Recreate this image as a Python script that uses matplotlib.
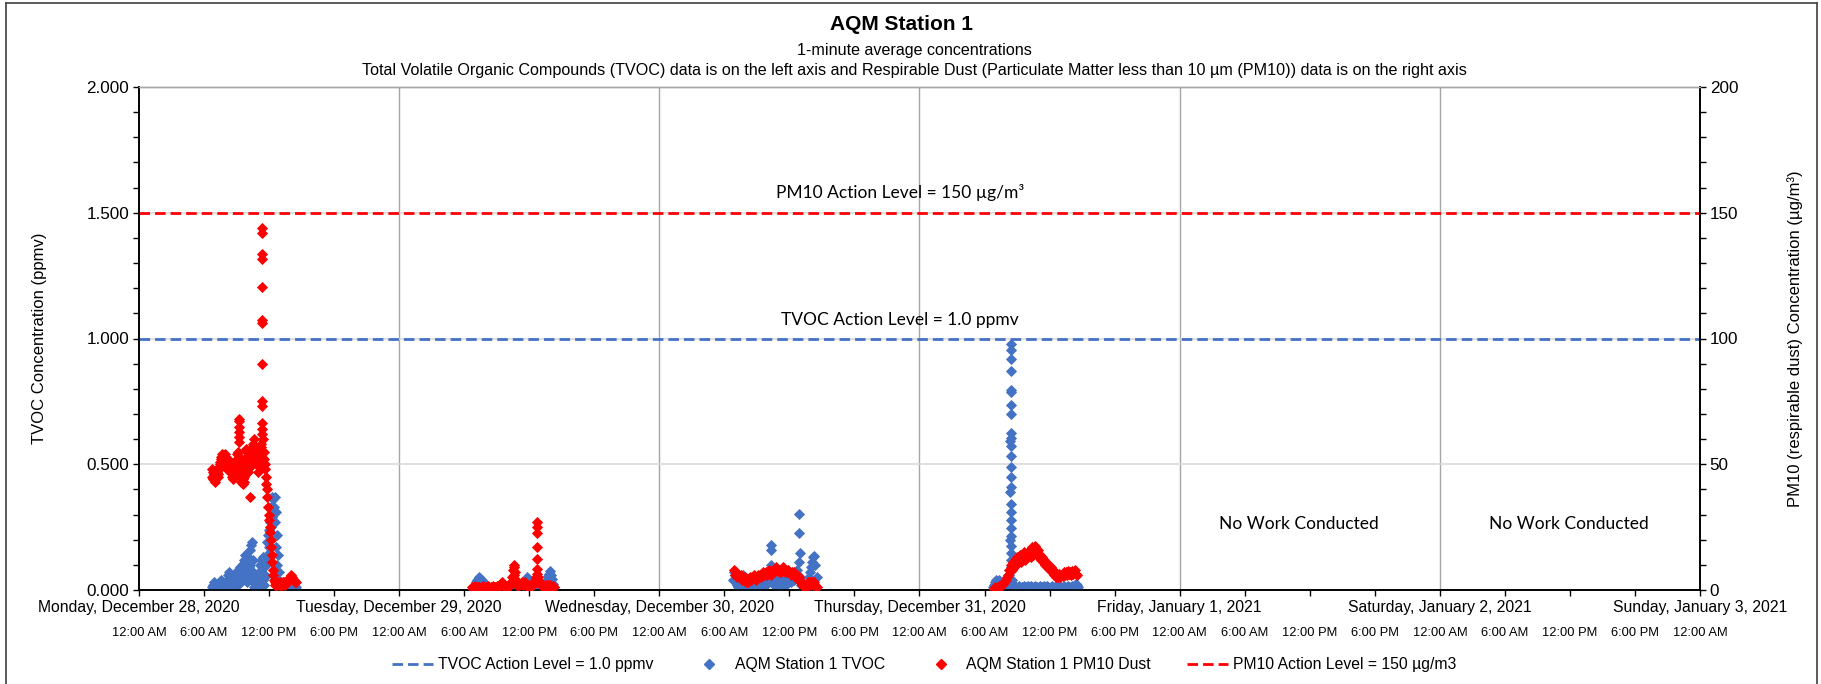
import numpy as np
import matplotlib.pyplot as plt
from matplotlib.lines import Line2D
from matplotlib.ticker import MultipleLocator

plt.rcParams['font.family'] = ['Liberation Sans', 'DejaVu Sans']

W, H = 1821, 684

# hours since Monday Dec 28 2020 00:00, readings every 6 minutes (0.1 h)
STEP = 0.1

# ---- TVOC (ppmv), left axis ----
tvoc_mon_start = 6.7
tvoc_mon = [0.01, 0.02, 0.03, 0.02, 0.00, 0.01, 0.00, 0.02, 0.03, 0.04, 0.03, 0.01, 0.00, 0.02,
            0.04, 0.06, 0.07, 0.05, 0.02, 0.00, 0.03, 0.05, 0.04, 0.07, 0.08, 0.05, 0.09, 0.06,
            0.10, 0.08, 0.12, 0.14, 0.10, 0.07, 0.13, 0.16, 0.18, 0.19, 0.12, 0.06, 0.03, 0.01,
            0.02, 0.04, 0.07, 0.10, 0.12, 0.13, 0.09, 0.05, 0.12, 0.19, 0.22, 0.24, 0.27, 0.33,
            0.37, 0.36, 0.37, 0.31, 0.22, 0.14, 0.07, 0.02, 0.01, 0.00, 0.01, 0.00, 0.00, 0.01,
            0.00, 0.01, 0.01, 0.00, 0.01, 0.02, 0.01, 0.00, 0.01]
# lower readings in between, offset by 3 minutes
tvoc_mon_low_start = 6.75
tvoc_mon_low = [0.00, 0.01, 0.01, 0.00, 0.00, 0.00, 0.01, 0.01, 0.02, 0.02, 0.00, 0.00, 0.01, 0.02,
                0.03, 0.04, 0.03, 0.01, 0.00, 0.01, 0.02, 0.02, 0.03, 0.04, 0.02, 0.04, 0.03, 0.05,
                0.04, 0.06, 0.07, 0.05, 0.03, 0.06, 0.09, 0.10, 0.08, 0.05, 0.03, 0.01, 0.00, 0.01,
                0.02, 0.03, 0.05, 0.07, 0.06, 0.04, 0.02, 0.06, 0.10, 0.14, 0.17, 0.20, 0.25, 0.29,
                0.32, 0.33, 0.27, 0.17, 0.10, 0.04, 0.01, 0.00]
tvoc_tue_start = 30.8
tvoc_tue = [0.00, 0.01, 0.02, 0.03, 0.04, 0.045, 0.05, 0.045, 0.04, 0.03, 0.02, 0.01, 0.00, 0.005,
            0.00, 0.00, 0.005, 0.00, 0.00, 0.005, 0.00, 0.00, 0.005, 0.00, 0.00, 0.005, 0.01, 0.015,
            0.02, 0.01, 0.00, 0.00, 0.005, 0.00, 0.00, 0.005, 0.00, 0.00, 0.005, 0.00, 0.00, 0.005,
            0.00, 0.005, 0.01, 0.015, 0.02, 0.03, 0.035, 0.04, 0.05, 0.045, 0.035, 0.025, 0.015, 0.01,
            0.005, 0.01, 0.02, 0.01, 0.005, 0.00, 0.005, 0.00, 0.005, 0.01, 0.015, 0.02, 0.04, 0.055,
            0.065, 0.075, 0.06, 0.045, 0.025, 0.01]
tvoc_wed_start = 54.8
tvoc_wed = [0.04, 0.07, 0.06, 0.04, 0.02, 0.01, 0.00, 0.03, 0.05, 0.06, 0.04, 0.02, 0.01, 0.00,
            0.02, 0.01, 0.00, 0.01, 0.02, 0.01, 0.00, 0.01, 0.02, 0.03, 0.02, 0.01, 0.02, 0.03,
            0.04, 0.03, 0.02, 0.03, 0.04, 0.05, 0.07, 0.10, 0.06, 0.04, 0.02, 0.03, 0.04, 0.02,
            0.01, 0.03, 0.04, 0.02, 0.03, 0.05, 0.04, 0.02, 0.03, 0.05, 0.04, 0.03, 0.05, 0.06,
            0.04, 0.05, 0.06, 0.08, 0.06, 0.11, 0.05, 0.02, 0.00, 0.01, 0.00, 0.01, 0.02, 0.03,
            0.05, 0.07, 0.09, 0.11, 0.13, 0.135, 0.10, 0.05]
tvoc_thu_start = 78.8
tvoc_thu = [0.01, 0.02, 0.03, 0.04, 0.03, 0.04, 0.02, 0.01, 0.00, 0.00, 0.01, 0.00, 0.01, 0.02,
            0.04, 0.06, 0.09, 0.04, 0.01, 0.005, 0.015, 0.01, 0.005, 0.01, 0.015, 0.01, 0.005, 0.01,
            0.015, 0.005, 0.01, 0.01, 0.015, 0.005, 0.01, 0.015, 0.01, 0.005, 0.01, 0.015, 0.01, 0.005,
            0.01, 0.015, 0.005, 0.01, 0.01, 0.015, 0.005, 0.01, 0.015, 0.01, 0.005, 0.01, 0.015, 0.01,
            0.005, 0.01, 0.015, 0.005, 0.01, 0.01, 0.015, 0.005, 0.01, 0.015, 0.01, 0.005, 0.01, 0.015,
            0.01, 0.005, 0.01, 0.015, 0.01, 0.02, 0.025, 0.02, 0.01]
# short bursts (several 1-minute readings stacked at nearly the same time)
tvoc_burst_t = [58.30, 58.32, 60.92, 60.93, 60.95,
                80.42, 80.42, 80.43, 80.42, 80.41, 80.43, 80.42, 80.42, 80.40, 80.41, 80.32, 80.43,
                80.44, 80.43, 80.44, 80.43, 80.32, 80.44, 80.43, 80.44, 80.43, 80.33, 80.44, 80.45,
                80.44, 80.45]
tvoc_burst_v = [0.179, 0.159, 0.302, 0.228, 0.146,
                0.979, 0.955, 0.919, 0.869, 0.794, 0.787, 0.734, 0.701, 0.624, 0.605, 0.591, 0.571,
                0.532, 0.490, 0.450, 0.410, 0.390, 0.341, 0.311, 0.278, 0.245, 0.200, 0.214, 0.175,
                0.148, 0.119]

# ---- PM10 (ug/m3), right axis ----
pm_mon_start = 6.7
pm_mon = [48, 44, 46, 43, 45, 47, 46, 49, 51, 53, 54, 52, 54, 51, 50, 52, 49, 51, 48, 46, 47,
          45, 49, 52, 55, 53, 50, 47, 45, 42, 43, 48, 53, 55, 51, 49, 50, 56, 58, 60, 57, 55,
          56, 52, 49, 55, 58, 60, 55]
pm_mon_mid_start = 6.75
pm_mon_mid = [45, 47, 44, 46, 48, 45, 48, 50, 52, 51, 50, 53, 49, 52, 48, 50, 47, 49, 45, 44,
              46, 48, 50, 54, 51, 48, 46, 43, 44, 45, 51, 56, 52, 47, 50, 53, 55, 57, 54, 52,
              54, 50, 47, 52, 56, 57, 53, 50]
pm_mon_drop_start = 11.55   # 3-minute readings while the dust fell off
pm_mon_drop = [52, 50, 48, 45, 42, 40, 37, 33, 30, 28, 25, 23, 20, 17, 14, 11, 8, 6, 4, 3, 2]
pm_mon_tail_start = 12.6
pm_mon_tail = [2, 2, 3, 2, 2, 3, 2, 3, 3, 2, 3, 4, 4, 5, 6, 5, 4, 4, 3, 3]
pm_tue_start = 30.7
pm_tue = [1.0, 0.5, 1.0, 1.5, 1.0, 0.5, 1.0, 1.0, 0.5, 1.0, 1.5, 1.0, 0.5, 1.0, 1.0, 1.5, 1.0,
          0.5, 1.0, 1.0, 1.5, 1.0, 1.0, 1.5, 1.0, 1.5, 2.0, 2.5, 3.0, 2.5, 1.5, 1.0, 1.5, 1.0,
          1.5, 2.0, 3.0, 5.0, 8.0, 10.0, 7.0, 4.0, 2.0, 1.5, 2.0, 2.5, 3.0, 2.0, 2.5, 3.0, 2.0,
          1.5, 1.0, 1.5, 1.0, 1.5, 2.0, 3.0, 4.0, 5.0, 6.5, 5.0, 3.5, 2.5, 2.0, 1.5, 2.0, 1.5,
          2.0, 1.5, 2.0, 1.5, 2.0, 1.5, 1.0, 1.5, 1.0]
pm_wed_start = 54.9
pm_wed = [8, 6, 7, 5, 6, 5, 6, 4, 5, 4, 5, 3, 4, 3, 4, 5, 4, 5, 6, 5, 4, 5, 6, 5, 6, 5, 6,
          7, 6, 7, 6, 7, 8, 7, 6, 7, 8, 7, 8, 9, 8, 7, 8, 7, 8, 9, 8, 7, 8, 7, 8, 7, 6, 7,
          6, 7, 6, 5, 6, 4, 5, 4, 3, 2, 1, 2, 1, 2, 3, 2, 3, 2, 3, 2, 3, 2, 1]
pm_thu_start = 78.9
pm_thu = [0.5, 1.0, 0.5, 1.0, 1.5, 1.0, 2.0, 2.0, 2.5, 3.0, 3.5, 4.0, 5.0, 6.0, 8.0, 10.0, 8.0,
          11.0, 9.0, 12.0, 10.0, 13.0, 11.0, 12.0, 14.0, 11.0, 13.0, 15.0, 12.0, 14.0, 13.0, 15.0,
          14.0, 16.0, 13.0, 17.0, 14.0, 16.0, 17.5, 14.0, 16.0, 13.0, 14.0, 12.0, 13.0, 11.0, 12.0,
          10.0, 11.0, 9.0, 10.0, 8.0, 9.0, 7.0, 8.0, 6.0, 7.0, 5.0, 6.0, 5.0, 6.5, 5.0, 6.0, 5.5,
          7.0, 6.0, 7.0, 6.0, 7.5, 6.5, 7.0, 6.0, 7.5, 6.5, 8.0, 6.5, 6.0]
pm_burst_t = [9.20, 9.21, 9.22, 9.22, 9.23, 9.24, 10.25,
              11.33, 11.33, 11.34, 11.34, 11.33, 11.34, 11.35, 11.34, 11.33, 11.34, 11.35, 11.36, 11.37,
              34.55, 34.56, 36.72, 36.72, 36.72, 36.73, 36.73, 36.74]
pm_burst_v = [68, 67, 65, 63, 61, 59, 37,
              143.8, 141.8, 133.6, 131.6, 120.4, 107.5, 106.3, 89.7, 75.1, 73.0, 66.4, 64.0, 62.0,
              9.0, 6.0, 27.1, 25.1, 22.8, 17.0, 12.2, 8.5]

tvoc_action = 1.0
pm_action = 150

day_labels = ['Monday, December 28, 2020', 'Tuesday, December 29, 2020', 'Wednesday, December 30, 2020',
              'Thursday, December 31, 2020', 'Friday, January 1, 2021', 'Saturday, January 2, 2021',
              'Sunday, January 3, 2021']
hour_labels = ['12:00 AM', '6:00 AM', '12:00 PM', '6:00 PM']

BLUE = '#4472C4'
RED = '#FF0000'


def series(start, vals, step=STEP):
    return start + step * np.arange(len(vals)), np.array(vals, dtype=float)


fig = plt.figure(figsize=(W / 100, H / 100), dpi=100)
ax = fig.add_axes([139 / W, 1 - 590 / H, (1700 - 139) / W, (590 - 87) / H])
ax2 = ax.twinx()

# grid
ax.set_axisbelow(True)
ax.yaxis.grid(True, which='major', color='#d9d9d9', linewidth=1.2)
for d in range(24, 144, 24):
    ax.axvline(d, color='#a6a6a6', linewidth=1.0, zorder=0.5)

mk = dict(linestyle='none', marker='D', markersize=5.3, markeredgewidth=0.6)

for start, vals in [(tvoc_mon_start, tvoc_mon), (tvoc_mon_low_start, tvoc_mon_low),
                    (tvoc_tue_start, tvoc_tue), (tvoc_wed_start, tvoc_wed), (tvoc_thu_start, tvoc_thu)]:
    t, v = series(start, vals)
    ax.plot(t, v, color=BLUE, markerfacecolor=BLUE, markeredgecolor=BLUE, zorder=3, **mk)
ax.plot(tvoc_burst_t, tvoc_burst_v, color=BLUE, markerfacecolor=BLUE, markeredgecolor=BLUE, zorder=3, **mk)

for start, vals, step in [(pm_mon_start, pm_mon, STEP), (pm_mon_mid_start, pm_mon_mid, STEP),
                          (pm_mon_drop_start, pm_mon_drop, 0.05),
                          (pm_mon_tail_start, pm_mon_tail, STEP), (pm_tue_start, pm_tue, STEP),
                          (pm_wed_start, pm_wed, STEP), (pm_thu_start, pm_thu, STEP)]:
    t, v = series(start, vals, step)
    ax2.plot(t, v, color=RED, markerfacecolor=RED, markeredgecolor=RED, zorder=3, **mk)
ax2.plot(pm_burst_t, pm_burst_v, color=RED, markerfacecolor=RED, markeredgecolor=RED, zorder=3, **mk)

dash = (3.8, 1.8)
ax.axhline(tvoc_action, color=BLUE, linewidth=2, linestyle=(0, dash), zorder=2)
ax2.axhline(pm_action, color=RED, linewidth=2, linestyle=(0, dash), zorder=2)

# axes
ax.set_xlim(0, 144)
ax.set_ylim(0, 2.0)
ax2.set_ylim(0, 200)
ax.yaxis.set_major_locator(MultipleLocator(0.5))
ax.yaxis.set_minor_locator(MultipleLocator(0.1))
ax2.yaxis.set_major_locator(MultipleLocator(50))
ax2.yaxis.set_minor_locator(MultipleLocator(10))
ax.set_yticklabels(['%.3f' % y for y in ax.get_yticks()])
ax.tick_params(axis='y', which='both', direction='out', length=4, width=1, labelsize=12.3, pad=3)
ax2.tick_params(axis='y', which='both', direction='out', length=4, width=1, labelsize=12.3, pad=3)

ticks = np.arange(0, 145, 6)
ax.set_xticks(ticks)
ax.set_xticklabels([hour_labels[i % 4] for i in range(len(ticks))], fontsize=9.3)
ax.tick_params(axis='x', direction='out', length=4, width=1, pad=22.5)
for i, lab in enumerate(day_labels):
    ax.text(i * 24, -0.034, lab, transform=ax.get_xaxis_transform(), ha='center', va='center',
            fontsize=11.3)

for a in (ax, ax2):
    for s in ('left', 'bottom', 'right'):
        a.spines[s].set_color('black')
        a.spines[s].set_linewidth(1.2)
    a.spines['top'].set_color('#a6a6a6')
    a.spines['top'].set_linewidth(1.0)

ax.set_ylabel('TVOC Concentration (ppmv)', fontsize=12)
ax.yaxis.set_label_coords((47 - 139) / (1700 - 139), 0.5)
ax2.set_ylabel('PM10 (respirable dust) Concentration (µg/m³)', fontsize=12, rotation=90)
ax2.yaxis.set_label_coords((1787 - 139) / (1700 - 139), 0.5)

# notes
note = dict(family=['Lato', 'DejaVu Sans'], fontsize=12.5, ha='center', va='center')
ax.text(70.2, 1.579, 'PM10 Action Level = 150 µg/m³', **note)
ax.text(70.2, 1.075, 'TVOC Action Level = 1.0 ppmv', **note)
ax.text(107.0, 0.262, 'No Work Conducted', **note)
ax.text(131.9, 0.262, 'No Work Conducted', **note)

# titles
fig.text(902 / W, 1 - 24 / H, 'AQM Station 1', ha='center', va='center', fontsize=15, fontweight='bold')
fig.text(914 / W, 1 - 51 / H, '1-minute average concentrations', ha='center', va='center', fontsize=11.6)
fig.text(914 / W, 1 - 70 / H,
         'Total Volatile Organic Compounds (TVOC) data is on the left axis and Respirable Dust '
         '(Particulate Matter less than 10 µm (PM10)) data is on the right axis',
         ha='center', va='center', fontsize=11.6)

# legend
handles = [Line2D([], [], color=BLUE, linewidth=2, linestyle=(0, dash)),
           Line2D([], [], color=BLUE, marker='D', markersize=5, linestyle='none'),
           Line2D([], [], color=RED, marker='D', markersize=5, linestyle='none'),
           Line2D([], [], color=RED, linewidth=2, linestyle=(0, dash))]
labels = ['TVOC Action Level = 1.0 ppmv', 'AQM Station 1 TVOC', 'AQM Station 1 PM10 Dust',
          'PM10 Action Level = 150 µg/m3']
fig.legend(handles, labels, loc='center', bbox_to_anchor=(924 / W, 1 - 665 / H), ncol=4,
           frameon=False, fontsize=11.3, handlelength=2.6, handletextpad=0.3, columnspacing=2.3)

# chart border
bc = '#404040'
fig.add_artist(Line2D([6 / W, 6 / W], [0, 1 - 3 / H], color=bc, linewidth=1.2))
fig.add_artist(Line2D([6 / W, 1817 / W], [1 - 3 / H, 1 - 3 / H], color=bc, linewidth=1.2))
fig.add_artist(Line2D([1817 / W, 1817 / W], [0, 1 - 3 / H], color=bc, linewidth=1.2))

fig.savefig('out.png', dpi=100)
